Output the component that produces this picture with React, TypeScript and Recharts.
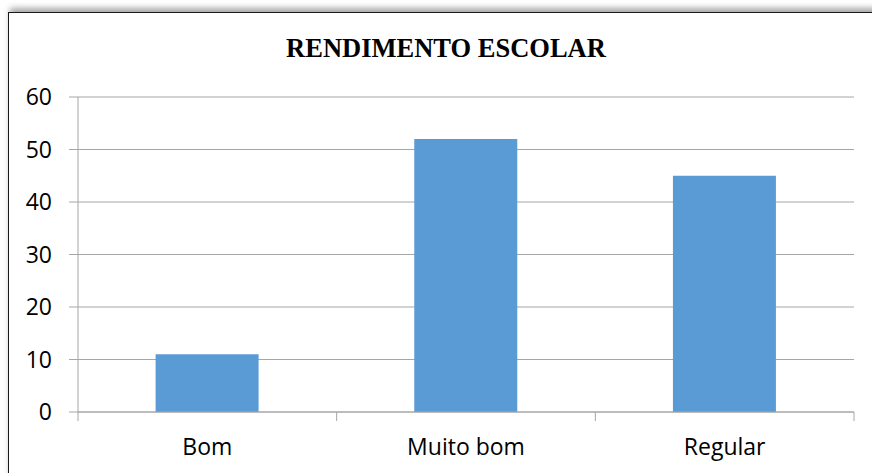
import React from "react";
import { BarChart, Bar, XAxis, YAxis, CartesianGrid } from "recharts";

const categories = ["Bom", "Muito bom", "Regular"];
const values = [11, 52, 45];
const yTicks = [0, 10, 20, 30, 40, 50, 60];
const xTicks = [0, 0.5, 1, 1.5, 2, 2.5, 3];

const data = categories.map((c, i) => ({ name: c, value: values[i], pos: i + 0.5 }));

const labelFont = "'Open Sans', sans-serif";

const XTick = (props: any) => {
  const { x, y, payload } = props;
  const v = payload.value as number;
  if (Number.isInteger(v)) {
    return <line x1={x} x2={x} y1={y} y2={y + 9} stroke="#a6a6a6" strokeWidth={1} />;
  }
  return (
    <text x={x} y={y + 43} textAnchor="middle" fill="#000" fontSize={23} fontFamily={labelFont}>
      {categories[Math.floor(v)]}
    </text>
  );
};

export default function App() {
  return (
    <div style={{ position: "absolute", left: 0, top: 0, width: 872, height: 473, overflow: "hidden", background: "#fff" }}>
      <div
        style={{
          position: "absolute",
          left: 8,
          top: 12,
          width: 920,
          height: 520,
          borderLeft: "1.5px solid #1a1a1a",
          borderTop: "1.5px solid #1a1a1a",
          boxShadow: "0 -6px 6px -2px rgba(0,0,0,0.35)",
          background: "#fff",
        }}
      />
      <div
        style={{
          position: "absolute",
          left: 0,
          width: 892,
          top: 32,
          textAlign: "center",
          fontFamily: "'Liberation Serif', 'Times New Roman', serif",
          fontWeight: "bold",
          fontSize: 26.5,
          lineHeight: "32px",
          color: "#000",
        }}
      >
        RENDIMENTO ESCOLAR
      </div>
      <div style={{ position: "absolute", left: 0, top: 0 }}>
        <BarChart
          width={872}
          height={473}
          data={data}
          margin={{ top: 97, right: 18, bottom: 0, left: 0 }}
          barCategoryGap="30%"
        >
          <CartesianGrid vertical={false} stroke="#a6a6a6" strokeWidth={1} />
          <XAxis xAxisId="cat" dataKey="name" hide height={0} />
          <XAxis
            xAxisId="num"
            type="number"
            dataKey="pos"
            domain={[0, 3]}
            ticks={xTicks}
            interval={0}
            tick={<XTick />}
            tickSize={0}
            tickMargin={0}
            tickLine={false}
            axisLine={{ stroke: "#a6a6a6" }}
            height={61}
          />
          <YAxis
            domain={[0, 60]}
            ticks={yTicks}
            width={78}
            tickSize={9}
            tickMargin={17}
            tickLine={{ stroke: "#a6a6a6" }}
            axisLine={{ stroke: "#a6a6a6" }}
            tick={{ fill: "#000", fontSize: 23, fontFamily: labelFont }}
            interval={0}
          />
          <Bar xAxisId="cat" dataKey="value" fill="#5b9bd5" isAnimationActive={false} />
        </BarChart>
      </div>
    </div>
  );
}
